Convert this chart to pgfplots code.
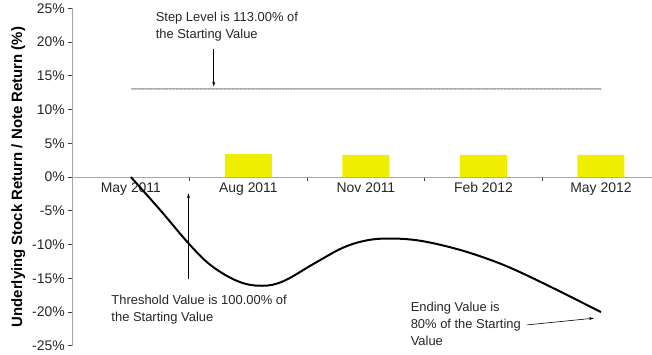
\documentclass[border=0pt]{standalone}
\usepackage{fontspec}
\setmainfont{Liberation Sans}
\usepackage{pgfplots}
\pgfplotsset{compat=1.18}
\usetikzlibrary{arrows.meta}
\definecolor{baryellow}{RGB}{240,238,0}
\begin{document}
\begin{tikzpicture}
\begin{axis}[
  scale only axis, width=580bp, height=338bp,
  xmin=-0.5, xmax=4.43, ymin=-25, ymax=25,
  axis y line*=left, axis x line*=middle,
  axis line style={-, draw=gray!70, line width=1pt},
  hide obscured x ticks=false,
  xtick={-0.5,0.5,1.5,2.5,3.5},
  xticklabels={},
  extra x ticks={0,1,2,3,4},
  extra x tick labels={May 2011,Aug 2011,Nov 2011,Feb 2012,May 2012},
  extra x tick style={major tick length=0pt},
  ytick={-25,-20,...,25},
  yticklabel={\pgfmathprintnumber{\tick}\%},
  /pgf/number format/assume math mode=true,
  tick align=outside, major tick length=4pt,
  tick style={draw=gray!50!black, line width=0.8pt},
  ticklabel style={font=\fontsize{14}{16}\selectfont, text=black!85},
  xticklabel style={yshift=-2pt},
  ylabel={\bfseries Underlying Stock Return / Note Return (\%)},
  ylabel style={font=\fontsize{15}{16}\selectfont, yshift=0pt},
  clip=false,
]
% yellow bars
\addplot[ybar, bar width=0.4, fill=baryellow, draw=none] coordinates {(1,3.4) (2,3.3) (3,3.3) (4,3.3)};
% step level line
\addplot[gray!65, line width=2pt] coordinates {(0,13) (4,13)};
\addplot[gray!30, line width=0.6pt, dash pattern=on 0.8pt off 0.8pt] coordinates {(0,13) (4,13)};
% underlying stock curve
\addplot[black, line width=2pt, smooth, tension=0.6] coordinates {
(0,0) (0.25,-4.9) (0.5,-10) (0.69,-13.2) (0.92,-15.5) (1.12,-16.1) (1.3,-15.4)
(1.56,-12.8) (1.8,-10.5) (2.0,-9.4) (2.2,-9.1) (2.45,-9.4) (2.74,-10.5)
(3.0,-11.9) (3.25,-13.6) (3.6,-16.5) (4,-20)};
% annotations
\node[anchor=north west, align=left, font=\fontsize{13}{17}\selectfont, text=black!85, inner sep=0pt]
  at (axis cs:0.21,24.4) {Step Level is 113.00\% of\\the Starting Value};
\draw[-{Stealth[length=5pt,width=3pt]}, line width=0.6pt] (axis cs:0.705,18.9) -- (axis cs:0.705,13.4);
\node[anchor=north west, align=left, font=\fontsize{13}{17}\selectfont, text=black!85, inner sep=0pt]
  at (axis cs:-0.167,-17.4) {Threshold Value is 100.00\% of\\the Starting Value};
\draw[-{Stealth[length=5pt,width=3pt]}, line width=0.6pt] (axis cs:0.49,-15.1) -- (axis cs:0.49,-2.4);
\node[anchor=north west, align=left, font=\fontsize{13}{17}\selectfont, text=black!85, inner sep=0pt]
  at (axis cs:2.38,-18.5) {Ending Value is\\80\% of the Starting\\Value};
\draw[-{Stealth[length=5pt,width=3pt]}, line width=0.6pt] (axis cs:3.37,-21.9) -- (axis cs:3.94,-20.9);
\end{axis}
\path (current bounding box.west) ++(-8bp,0);
\end{tikzpicture}
\end{document}
